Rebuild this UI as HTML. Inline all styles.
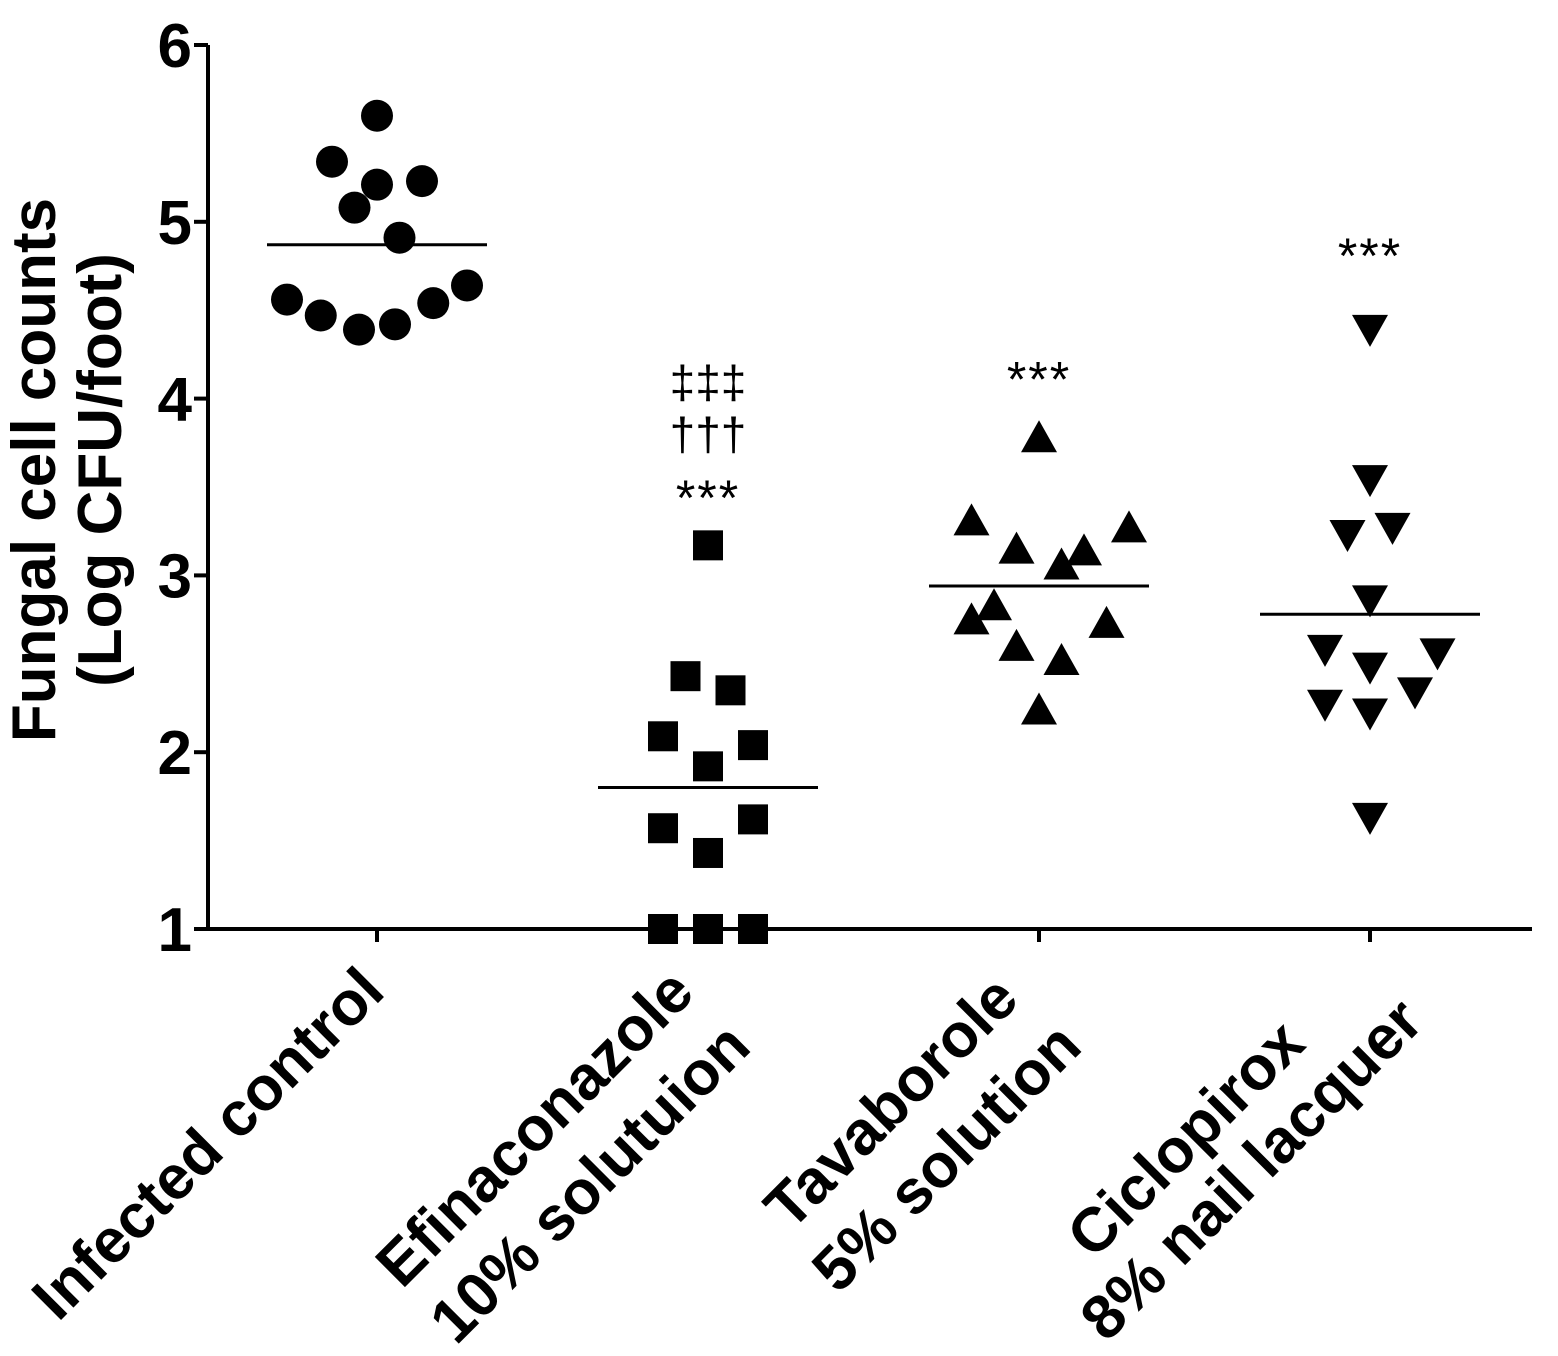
<!DOCTYPE html>
<html><head><meta charset="utf-8"><style>
html,body{margin:0;padding:0;background:#fff;}
svg{display:block;font-family:"Liberation Sans",Arial,sans-serif;}
</style></head><body>
<svg id="chart" width="1558" height="1356" viewBox="0 0 1558 1356" xmlns="http://www.w3.org/2000/svg">
<g id="axes"></g>
<g id="marks"></g>
<g id="labels"></g>
</svg>
<script>
const categories = ["Infected control|", "Efinaconazole|10% solutuion", "Tavaborole|5% solution", "Ciclopirox|8% nail lacquer"];
const markerTypes = ["circle", "square", "triangle-up", "triangle-down"];
const controlValues = [5.34, 5.60, 5.21, 5.23, 5.08, 4.91, 4.56, 4.47, 4.39, 4.42, 4.54, 4.64];
const efinaValues = [3.17, 2.43, 2.35, 2.09, 2.04, 1.92, 1.57, 1.62, 1.43, 1.0, 1.0, 1.0];
const tavaValues = [3.77, 3.30, 3.14, 3.13, 3.26, 3.05, 2.82, 2.74, 2.72, 2.59, 2.51, 2.23];
const cicloValues = [4.40, 3.55, 3.24, 3.28, 2.87, 2.59, 2.49, 2.57, 2.35, 2.28, 2.23, 1.64];
const meanValues = [4.87, 1.80, 2.94, 2.78];
const jitterControl = [-1, 0, 0, 1, -0.5, 0.5, -2, -1.25, -0.4, 0.4, 1.25, 2];
const jitterEfina = [0, -0.5, 0.5, -1, 1, 0, -1, 1, 0, -1, 0, 1];
const jitterTava = [0, -1.5, -0.5, 1, 2, 0.5, -1, -1.5, 1.5, -0.5, 0.5, 0];
const jitterCiclo = [0, 0, -0.5, 0.5, 0, -1, 0, 1.5, 1, -1, 0, 0];
const yTicks = [1, 2, 3, 4, 5, 6];
const annotations = [["", "", ""], ["***", "†††", "‡‡‡"], ["***"], ["***"]];
const annotationValues = [null, 3.46, 4.13, 4.83];

const NS = "http://www.w3.org/2000/svg";
const x0 = 208, x1 = 1532, yTop = 45, yBot = 929;
function yScale(v){ return yBot - (v - 1) / 5 * (yBot - yTop); }
function xScale(i){ return 377 + i * 331; }
const jitterPx = 45;
function mk(tag, attrs, parent){ const e = document.createElementNS(NS, tag); for (const k in attrs) e.setAttribute(k, attrs[k]); parent.appendChild(e); return e; }

const axes = document.getElementById("axes");
const marks = document.getElementById("marks");
const labels = document.getElementById("labels");

let a = mk("line", {x1:x0, y1:yTop, x2:x0, y2:yBot+2, stroke:"#000", "stroke-width":4}, axes);


a = mk("line", {x1:x0-2, y1:yBot, x2:x1, y2:yBot, stroke:"#000", "stroke-width":4}, axes);



yTicks.forEach(t => {
  const y = yScale(t);
  const tk = mk("line", {x1:x0-14, y1:y, x2:x0, y2:y, stroke:"#000", "stroke-width":4}, axes);
  
  
  const tl = mk("text", {x:192, y:y+22, "text-anchor":"end", "font-size":62, "font-weight":"bold"}, axes);
  tl.textContent = t;
  
  
});

const yt = mk("text", {transform:"translate(55,470) rotate(-90)", "text-anchor":"middle", "font-size":62, "font-weight":"bold"}, labels);


const ts1 = mk("tspan", {x:0, y:0}, yt); ts1.textContent = "Fungal cell counts";
const ts2 = mk("tspan", {x:0, y:66}, yt); ts2.textContent = "(Log CFU/foot)";

const seriesValues = [controlValues, efinaValues, tavaValues, cicloValues];
const seriesJitter = [jitterControl, jitterEfina, jitterTava, jitterCiclo];

categories.forEach((c, i) => {
  const cx = xScale(i);
  const tk = mk("line", {x1:cx, y1:yBot, x2:cx, y2:yBot+13, stroke:"#000", "stroke-width":4}, axes);
  
  

  const parts = c.split("|").filter(s => s);
  const ax = parts.length > 1 ? cx - 10 : cx + 10;
  const g = mk("g", {transform:`translate(${ax},994) rotate(-45)`}, labels);
  
  
  const texts = parts.map((p, k) => {
    const t = mk("text", {x:0, y:k*78, "text-anchor":"end", "font-size":62, "font-weight":"bold"}, g);
    t.textContent = p;
    return t;
  });
  const widths = texts.map(t => t.getComputedTextLength());
  const W = Math.max(...widths);
  texts.forEach((t, k) => {
    let xo = -(W - widths[k]) / 2;
    let yo = k * 78;
    if (i === 3 && k === 1) { xo += 25; yo -= 10; }
    t.setAttribute("x", xo);
    t.setAttribute("y", yo);
  });

  const vals = seriesValues[i], jit = seriesJitter[i];
  vals.forEach((v, k) => {
    const px = cx + jit[k] * jitterPx, py = yScale(v);
    let m;
    if (markerTypes[i] === "circle") m = mk("circle", {cx:px, cy:py, r:16, fill:"#000"}, marks);
    else if (markerTypes[i] === "square") m = mk("rect", {x:px-15, y:py-15, width:30, height:30, fill:"#000"}, marks);
    else if (markerTypes[i] === "triangle-up") m = mk("polygon", {points:`${px},${py-19} ${px-18},${py+13} ${px+18},${py+13}`, fill:"#000"}, marks);
    else m = mk("polygon", {points:`${px},${py+19} ${px-18},${py-13} ${px+18},${py-13}`, fill:"#000"}, marks);
    
    
  });

  const my = yScale(meanValues[i]);
  const ml = mk("line", {x1:cx-110, y1:my, x2:cx+110, y2:my, stroke:"#000", "stroke-width":3}, marks);
  
  

  if (annotationValues[i] !== null) {
    annotations[i].forEach((s, k) => {
      if (!s) return;
      const base = yScale(annotationValues[i]) - k * 52;
      const isStar = s === "***";
      const at = mk("text", {x:cx, y: isStar ? base + 21 : base + 8, "text-anchor":"middle", "font-size": isStar ? 50 : 46, "letter-spacing": isStar ? 2 : 0}, labels);
      at.textContent = s;
      
      
    });
  }
});
</script>
</body></html>
